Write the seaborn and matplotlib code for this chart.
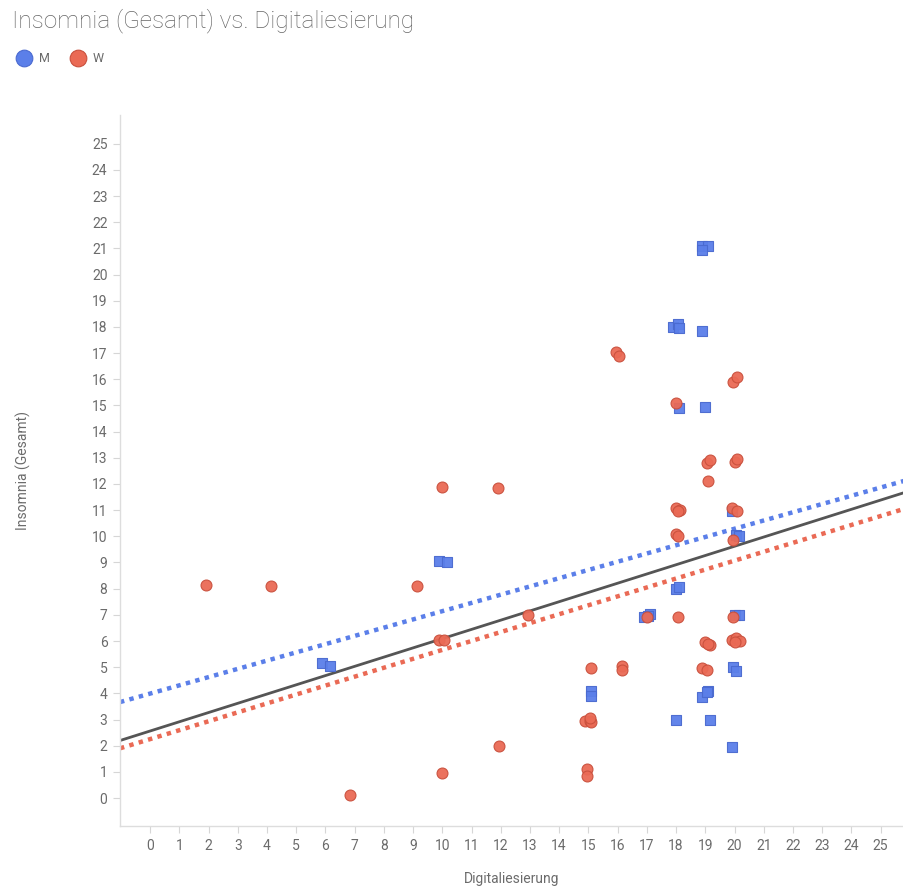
import numpy as np
import pandas as pd
import matplotlib
matplotlib.use("Agg")
import matplotlib.pyplot as plt
from matplotlib.lines import Line2D
import seaborn as sns

# Survey responses (Digitaliesierung score, Insomnia total), slightly jittered
m_x = [18.9, 19.1, 18.9, 17.9, 18.05, 18.1, 18.9, 18.1, 19.0, 19.9, 20.05, 20.15,
       9.9, 10.15, 18.0, 18.1, 16.9, 17.1, 17.05, 20.0, 20.15, 5.9, 6.15, 15.1, 15.1,
       19.95, 20.05, 18.9, 19.1, 19.05, 18.0, 19.15, 19.9]
m_y = [21.1, 21.1, 20.95, 18.0, 18.1, 17.95, 17.85, 14.9, 14.95, 10.95, 10.05, 10.0,
       9.05, 9.0, 8.0, 8.05, 6.9, 7.05, 6.95, 7.0, 7.0, 5.15, 5.05, 4.1, 3.9,
       5.0, 4.85, 3.85, 4.1, 4.05, 3.0, 3.0, 1.95]

w_x = [15.95, 16.05, 19.95, 20.1, 18.0, 19.05, 19.15, 20.0, 20.1, 19.1, 10.0, 11.9,
       18.0, 18.15, 18.05, 19.9, 20.1, 18.0, 18.05, 19.95, 1.9, 4.15, 9.15, 12.95,
       17.0, 18.05, 19.95, 9.9, 10.05, 19.0, 19.15, 19.1, 19.9, 20.05, 20.2, 20.0,
       15.1, 16.15, 16.15, 18.9, 19.05, 14.9, 15.05, 15.1, 15.05, 14.95, 14.95,
       11.95, 10.0, 6.85]
w_y = [17.05, 16.9, 15.9, 16.1, 15.1, 12.8, 12.9, 12.85, 12.95, 12.1, 11.9, 11.85,
       11.1, 11.0, 10.95, 11.1, 10.95, 10.1, 10.0, 9.85, 8.15, 8.1, 8.1, 7.0,
       6.9, 6.9, 6.9, 6.05, 6.05, 5.95, 5.85, 5.9, 6.05, 6.1, 6.0, 5.95,
       4.95, 5.05, 4.9, 4.95, 4.9, 2.95, 2.95, 2.9, 3.05, 1.1, 0.85,
       2.0, 0.95, 0.1]

groups = ["M", "W"]
ticks = list(range(0, 26))

# Linear trends (intercept, slope): overall, M, W
trend_names = ["Gesamt", "M", "W"]
trend_intercept = [2.56, 3.99, 2.25]
trend_slope = [0.353, 0.315, 0.341]

df = pd.DataFrame({
    "Digitaliesierung": m_x + w_x,
    "Insomnia (Gesamt)": m_y + w_y,
    "Geschlecht": ["M"] * len(m_x) + ["W"] * len(w_x),
})

sns.set_theme(style="white")
plt.rcParams["font.family"] = ["Roboto", "DejaVu Sans"]

BLUE = "#5b7fe9"
RED = "#ea6a55"
GREY_TXT = "#6b6b6b"
palette = {"M": BLUE, "W": RED}
edges = {"M": "#4a6ad0", "W": "#c9503d"}
trend_style = {
    "Gesamt": dict(color="#555555", lw=2, ls="-"),
    "M": dict(color=BLUE, lw=3.2, ls=(0, (1, 1.2)), dash_capstyle="butt"),
    "W": dict(color=RED, lw=3.2, ls=(0, (1, 1.2)), dash_capstyle="butt"),
}

fig = plt.figure(figsize=(9.04, 8.86), dpi=100)
ax = fig.add_axes([0.1327, 0.0677, 0.8673, 0.8025])

for name, b, m in zip(trend_names, trend_intercept, trend_slope):
    ax.axline((0, b), slope=m, zorder=2, **trend_style[name])

for g, mk in zip(groups, ["s", "o"]):
    sub = df[df["Geschlecht"] == g]
    sns.scatterplot(data=sub, x="Digitaliesierung", y="Insomnia (Gesamt)", ax=ax,
                    marker=mk, s=62, color=palette[g], edgecolor=edges[g],
                    linewidth=0.8, alpha=0.95, zorder=3, legend=False)

ax.set_xlim(-1.03, 25.8)
ax.set_ylim(-1.07, 26.1)
ax.set_xticks(ticks)
ax.set_yticks(ticks)
ax.set_xticklabels([str(t) for t in ticks])
ax.set_yticklabels([str(t) for t in ticks])
ax.tick_params(axis="both", which="both", length=5, width=0.8, color="#d6d6d6",
               labelsize=10, labelcolor=GREY_TXT, pad=4, left=True, bottom=True)
for side in ["top", "right"]:
    ax.spines[side].set_visible(False)
for side in ["left", "bottom"]:
    ax.spines[side].set_color("#dddddd")
    ax.spines[side].set_linewidth(1)

ax.set_xlabel("Digitaliesierung", fontsize=10, color=GREY_TXT, labelpad=14)
ax.set_ylabel("Insomnia (Gesamt)", fontsize=10, color=GREY_TXT, labelpad=44)

fig.text(0.013, 0.977, "Insomnia (Gesamt) vs. Digitaliesierung", fontsize=17.5,
         color="#666666", ha="left", va="center", fontweight="light")

handles = [Line2D([], [], marker="o", ls="", markersize=12, markerfacecolor=palette[g],
                  markeredgecolor=edges[g], markeredgewidth=0.8, label=g) for g in groups]
fig.legend(handles=handles, loc="center left", bbox_to_anchor=(0.006, 0.934),
           ncol=2, frameon=False, fontsize=9, labelcolor=GREY_TXT,
           handletextpad=0.6, columnspacing=1.6, handlelength=1.2)

fig.savefig("out.png", dpi=100)
